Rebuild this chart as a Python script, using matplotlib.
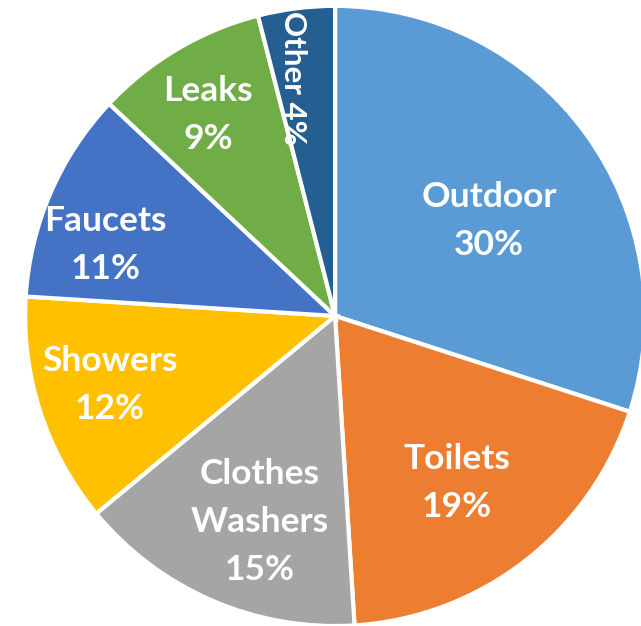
import matplotlib.pyplot as plt
import numpy as np

categories = ["Outdoor", "Toilets", "Clothes\nWashers", "Showers", "Faucets", "Leaks", "Other"]
values = [30, 19, 15, 12, 11, 9, 4]
colors = ["#5B9BD5", "#ED7D31", "#A5A5A5", "#FFC000", "#4472C4", "#70AD47", "#255E91"]

fig = plt.figure(figsize=(6.41, 6.26), dpi=100)
ax = fig.add_axes([0, 0, 1, 1])
wedges, _ = ax.pie(values, colors=colors, startangle=90, counterclock=False,
                   radius=1, wedgeprops=dict(edgecolor="white", linewidth=3))
ax.set_xlim(-1.081, 0.987)
ax.set_ylim(-1.0, 1.019)
ax.set_aspect("auto")
ax.axis("off")

# label distance from center and angle nudge (deg), per slice
dist = [0.584, 0.667, 0.707, 0.759, 0.776, 0.767, 0.78]
nudge = [-4.3, -1.7, 3.4, -1.0, 6.2, 1.7, 2.8]
for w, cat, v, d, n in zip(wedges, categories, values, dist, nudge):
    ang = np.deg2rad((w.theta1 + w.theta2) / 2 + n)
    x, y = d * np.cos(ang), d * np.sin(ang)
    if cat == "Other":
        ax.text(x, y, f"{cat} {v}%", rotation=-90, ha="center", va="center",
                color="white", fontsize=22.5, fontweight="bold", family="Lato")
    else:
        ax.text(x, y, f"{cat}\n{v}%", ha="center", va="center", color="white",
                fontsize=25.5, fontweight="bold", family="Lato", linespacing=1.6)

fig.savefig("out.png", dpi=100)
